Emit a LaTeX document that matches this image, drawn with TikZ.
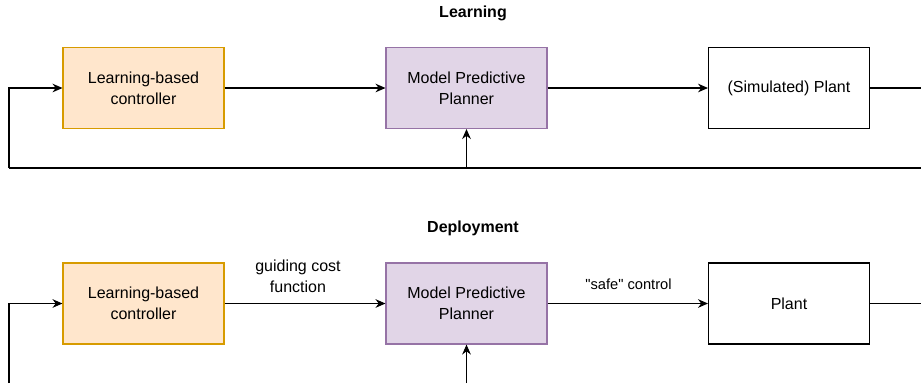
\documentclass[tikz,border=0pt]{standalone}
\usepackage{fontspec}
\setmainfont{Liberation Sans}[Ligatures=TeXOff]
\usetikzlibrary{arrows.meta}
\definecolor{orfill}{HTML}{FFE6CC}
\definecolor{ordraw}{HTML}{D79B00}
\definecolor{pufill}{HTML}{E1D5E7}
\definecolor{pudraw}{HTML}{9673A6}
\tikzset{
  blk/.style={draw, line width=0.8pt, minimum width=161*0.75pt, minimum height=81*0.75pt, align=center, font=\fontsize{12}{15.5}\selectfont, inner sep=0pt},
  ctrl/.style={blk, fill=orfill, draw=ordraw},
  mpc/.style={blk, fill=pufill, draw=pudraw},
  plant/.style={blk, fill=white, draw=black},
  conn/.style={draw, line width=0.8pt, -{Stealth[length=7.5pt,width=6.5pt]}},
  line/.style={draw, line width=0.8pt},
  ttl/.style={font=\fontsize{12}{14}\selectfont\bfseries},
  lbl/.style={font=\fontsize{12}{15.5}\selectfont, align=center},
  slbl/.style={font=\fontsize{11}{13}\selectfont, align=center}
}
\begin{document}
\begin{tikzpicture}[x=0.75pt,y=-0.75pt]
\useasboundingbox (0,0) rectangle (921,383);
% Learning
\node[ttl] (t1) at (473,13) {Learning};
\node[ctrl] (c1) at (143.5,88) {Learning-based\\controller};
\node[mpc] (m1) at (466.5,88) {Model Predictive\\Planner};
\node[plant] (p1) at (789,88) {(Simulated) Plant};
\coordinate (e1) at (921,88);
\coordinate (f1r) at (921,168);
\coordinate (f1l) at (9,168);
\coordinate (f1m) at (466.5,168);
\draw[conn] (c1) -- (m1);
\draw[conn] (m1) -- (p1);
\draw[line] (p1) -- (e1);
\draw[line] (f1r) -- (f1l);
\draw[conn] (f1l) |- (c1.west);
\draw[conn] (f1m) -- (m1.south);
% Deployment
\node[ttl] (t2) at (473,228) {Deployment};
\node[ctrl] (c2) at (143.5,303.5) {Learning-based\\controller};
\node[mpc] (m2) at (466.5,303.5) {Model Predictive\\Planner};
\node[plant] (p2) at (789,303.5) {Plant};
\coordinate (e2) at (921,303.5);
\coordinate (f2l) at (9,383);
\coordinate (f2m) at (466.5,383);
\draw[conn] (c2) -- (m2);
\node[lbl] (g) at (298,276.5) {guiding cost\\function};
\draw[conn] (m2) -- (p2);
\node[slbl] (s) at (628.5,284.5) {"safe" control};
\draw[line] (p2) -- (e2);
\draw[conn] (f2l) |- (c2.west);
\draw[conn] (f2m) -- (m2.south);
\end{tikzpicture}
\end{document}
